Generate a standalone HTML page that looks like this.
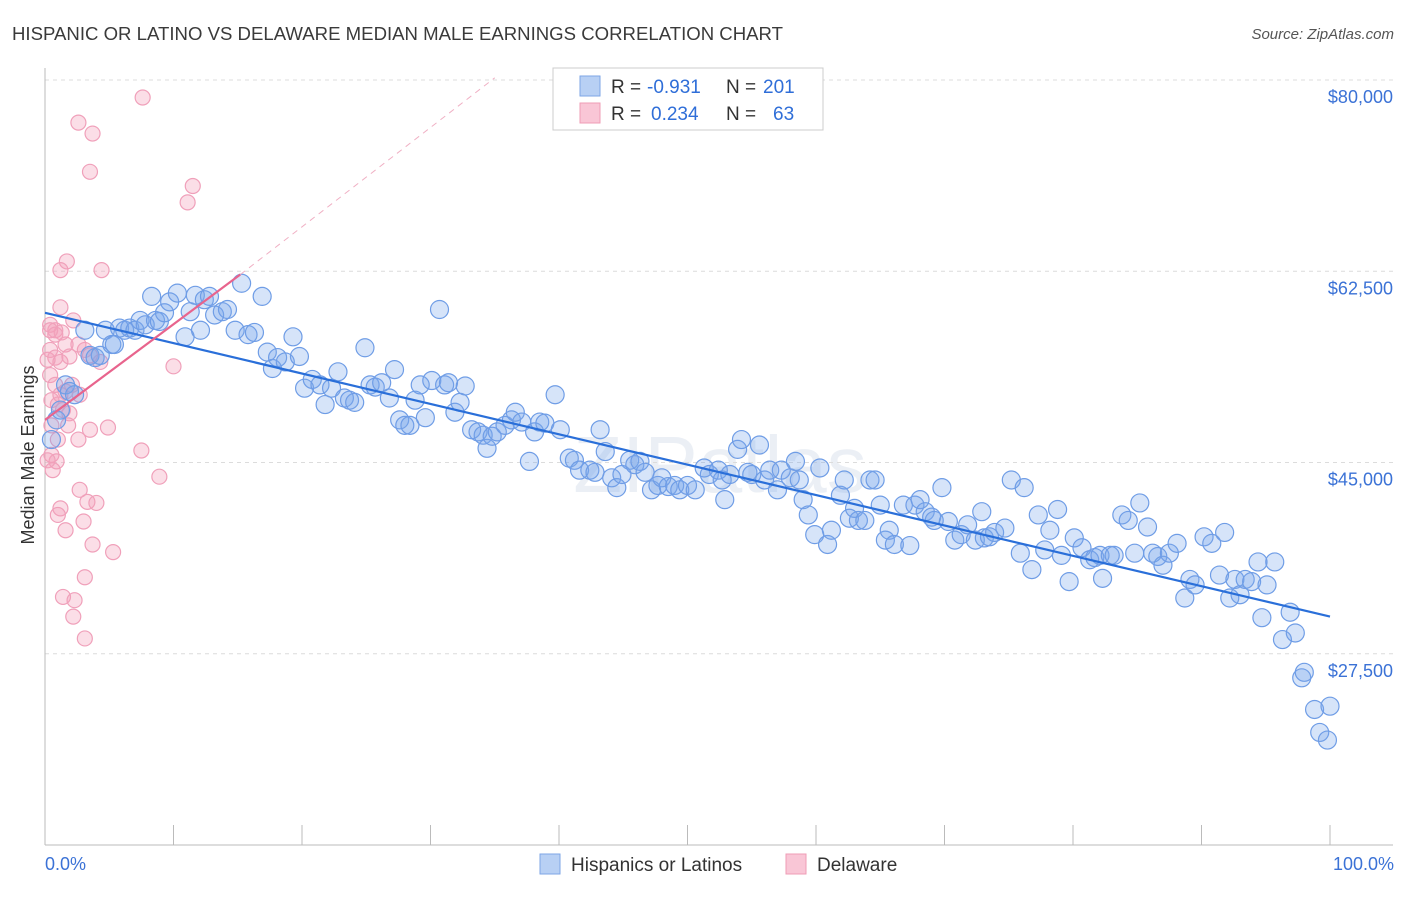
<!DOCTYPE html>
<html><head><meta charset="utf-8">
<style>
body{margin:0;background:#fff;font-family:"Liberation Sans",sans-serif;}
svg text{font-family:"Liberation Sans",sans-serif;}
</style></head>
<body>
<svg id="chart" width="1406" height="892" xmlns="http://www.w3.org/2000/svg">
<text x="12" y="40" font-size="18" fill="#3a3a3a" textLength="771" lengthAdjust="spacingAndGlyphs">HISPANIC OR LATINO VS DELAWARE MEDIAN MALE EARNINGS CORRELATION CHART</text>
<text x="1394" y="39" font-size="15" fill="#555" font-style="italic" text-anchor="end">Source: ZipAtlas.com</text>
<text x="720" y="492" font-size="80" fill="#dfe6ef" text-anchor="middle" font-family="Liberation Serif" opacity="0.6">ZIPatlas</text>
<text transform="translate(34,455) rotate(-90)" font-size="18" fill="#333" text-anchor="middle">Median Male Earnings</text>
<g id="grid"></g><g id="axes"></g><g id="pink"></g><g id="blue"></g><g id="trends"></g>
<g>
<rect x="553" y="68" width="270" height="62" fill="#fff" stroke="#ccc"/>
<rect x="580" y="76" width="20" height="20" fill="#b8d0f4" stroke="#7ea6e6"/>
<rect x="580" y="103" width="20" height="20" fill="#f9c6d6" stroke="#ef9cb6"/>
<text x="611" y="93" font-size="19" fill="#333">R =</text>
<text x="647" y="93" font-size="19" fill="#2f6ed8">-0.931</text>
<text x="726" y="93" font-size="19" fill="#333">N =</text>
<text x="763" y="93" font-size="19" fill="#2f6ed8">201</text>
<text x="611" y="120" font-size="19" fill="#333">R =</text>
<text x="651" y="120" font-size="19" fill="#2f6ed8">0.234</text>
<text x="726" y="120" font-size="19" fill="#333">N =</text>
<text x="773" y="120" font-size="19" fill="#2f6ed8">63</text>
</g>
<g>
<rect x="540" y="854" width="20" height="20" fill="#b8d0f4" stroke="#7ea6e6"/>
<text x="571" y="871" font-size="19" fill="#333">Hispanics or Latinos</text>
<rect x="786" y="854" width="20" height="20" fill="#f9c6d6" stroke="#ef9cb6"/>
<text x="817" y="871" font-size="19" fill="#333">Delaware</text>
</g>
<text x="45" y="870" font-size="18" fill="#3b72d6">0.0%</text>
<text x="1394" y="870" font-size="18" fill="#3b72d6" text-anchor="end">100.0%</text>
</svg>
<script>
const yTicks=[80000,62500,45000,27500];
const yTickLabels=["$80,000","$62,500","$45,000","$27,500"];
const xTicks=[0,10,20,30,40,50,60,70,80,90,100];
const blueX=[0.5,0.9,1.2,1.6,1.9,2.3,3.1,3.5,3.9,4.3,4.7,5.2,5.4,5.8,6.2,6.6,7.0,7.4,7.8,8.3,8.6,8.9,9.3,9.7,10.3,10.9,11.3,11.7,12.1,12.4,12.8,13.2,13.8,14.2,14.8,15.3,15.8,16.3,16.9,17.3,17.7,18.1,18.7,19.3,19.8,20.2,20.8,21.4,21.8,22.3,22.8,23.3,23.7,24.1,24.9,25.3,25.7,26.2,26.8,27.2,27.6,28.0,28.4,28.8,29.2,29.6,30.1,30.7,31.1,31.4,31.9,32.3,32.7,33.2,33.7,34.1,34.4,34.8,35.2,35.8,36.3,36.6,37.1,37.7,38.1,38.5,38.9,39.7,40.1,40.8,41.2,41.6,42.4,42.8,43.2,43.6,44.1,44.5,44.9,45.5,45.9,46.3,46.7,47.2,47.7,48.0,48.5,49.0,49.4,50.0,50.6,51.3,51.7,52.4,52.7,52.9,53.3,53.9,54.2,54.7,55.0,55.6,56.0,56.4,57.0,57.3,58.0,58.4,58.7,59.0,59.4,59.9,60.3,60.9,61.2,61.9,62.2,62.6,63.0,63.3,63.8,64.2,64.6,65.0,65.4,65.7,66.1,66.8,67.3,67.7,68.1,68.5,69.0,69.2,69.8,70.3,70.8,71.3,71.8,72.4,72.9,73.1,73.5,73.9,74.7,75.2,75.9,76.2,76.8,77.3,77.8,78.2,78.8,79.1,79.7,80.1,80.7,81.3,81.7,82.1,82.3,82.9,83.2,83.8,84.3,84.8,85.2,85.8,86.2,86.6,87.0,87.5,88.1,88.7,89.1,89.5,90.2,90.8,91.4,91.8,92.2,92.6,93.0,93.4,93.9,94.4,94.7,95.1,95.7,96.3,96.9,97.3,97.8,98.0,98.8,99.2,99.8,100.0];
const blueY=[47.1,48.9,49.8,52.1,51.5,51.2,57.1,54.8,54.6,54.8,57.1,55.8,55.8,57.3,57.1,57.3,57.1,58.0,57.6,60.2,58.0,57.9,58.7,59.7,60.5,56.5,58.8,60.3,57.1,59.9,60.2,58.5,58.8,59.0,57.1,61.4,56.7,56.9,60.2,55.1,53.6,54.6,54.2,56.5,54.7,51.8,52.6,52.1,50.3,51.8,53.3,50.9,50.7,50.5,55.5,52.1,51.9,52.3,50.9,53.5,48.9,48.4,48.4,50.7,52.1,49.1,52.5,59.0,52.1,52.3,49.6,50.5,52.0,48.0,47.8,47.5,46.3,47.4,47.8,48.4,48.9,49.6,48.7,45.1,47.8,48.7,48.6,51.2,48.0,45.4,45.2,44.3,44.3,44.1,48.0,46.0,43.6,42.7,43.9,45.2,44.8,45.1,44.1,42.5,42.9,43.6,42.8,42.9,42.5,42.9,42.5,44.5,43.9,44.3,43.4,41.6,43.9,46.2,47.1,44.1,43.9,46.6,43.4,44.3,42.5,44.3,43.6,45.1,43.4,41.6,40.2,38.4,44.5,37.5,38.8,42.0,43.4,39.9,40.8,39.7,39.7,43.4,43.4,41.1,37.9,38.8,37.5,41.1,37.4,41.1,41.6,40.5,40.0,39.7,42.7,39.6,37.9,38.4,39.3,37.9,40.5,38.1,38.2,38.6,39.0,43.4,36.7,42.7,35.2,40.2,37.0,38.8,40.7,36.5,34.1,38.1,37.2,36.1,36.3,36.5,34.4,36.5,36.5,40.2,39.7,36.7,41.3,39.1,36.7,36.4,35.6,36.7,37.6,32.6,34.3,33.8,38.2,37.6,34.7,38.6,32.6,34.3,32.9,34.3,34.1,35.9,30.8,33.8,35.9,28.8,31.3,29.4,25.3,25.8,22.4,20.3,19.6,22.7];
const pinkX=[7.6,2.6,3.7,3.5,11.5,11.1,4.4,1.7,1.2,1.2,0.4,0.8,2.2,1.3,0.4,2.6,3.1,0.8,1.2,1.9,4.3,10.0,0.4,0.8,1.6,2.7,1.0,1.4,1.9,0.5,3.5,4.9,1.0,2.6,0.5,0.9,7.5,8.9,0.6,2.7,3.3,4.0,1.2,1.0,3.0,1.6,3.7,5.3,3.1,1.4,2.3,2.2,3.1,0.4,0.2,0.5,0.2,0.8,1.6,3.5,2.1,1.2,1.8];
const pinkY=[78.4,76.1,75.1,71.6,70.3,68.8,62.6,63.4,62.6,59.2,57.6,57.1,58.0,56.9,55.3,55.8,55.3,54.6,54.2,54.7,54.2,53.8,53.0,52.1,51.5,51.2,50.3,49.8,49.5,48.4,48.0,48.2,47.1,47.1,45.7,45.1,46.1,43.7,44.3,42.5,41.4,41.3,40.8,40.2,39.6,38.8,37.5,36.8,34.5,32.7,32.4,30.9,28.9,57.1,54.4,50.7,45.2,56.7,55.8,54.8,52.1,51.2,48.4];
const blueTrendX=[0,100], blueTrendY=[58.7,30.9];
const pinkTrendX=[0,15.2], pinkTrendY=[48.9,62.2];
const pinkDashX=[15.2,35], pinkDashY=[62.2,80.2];

const NS="http://www.w3.org/2000/svg";
const X=p=>45+p*12.85;
const Y=k=>845-(k-10)*765/70;
function mk(tag,parent,attrs){const e=document.createElementNS(NS,tag);for(const a in attrs)e.setAttribute(a,attrs[a]);document.getElementById(parent).appendChild(e);return e;}
yTicks.forEach((v,i)=>{
  const y=Y(v/1000);
  const g=mk('line','grid',{x1:45,x2:1393,y1:y,y2:y,stroke:'#dcdcdc','stroke-dasharray':'4,4'});
  
  
  const t=mk('text','grid',{x:1393,y:y+23,'font-size':18,fill:'#3b72d6','text-anchor':'end'});
  t.textContent=yTickLabels[i];
  
  
});
const ax=mk('line','axes',{x1:45,x2:45,y1:68,y2:845,stroke:'#bbb'});


const bx=mk('line','axes',{x1:45,x2:1393,y1:845,y2:845,stroke:'#bbb'});


xTicks.forEach(p=>{
  const t=mk('line','axes',{x1:X(p),x2:X(p),y1:825,y2:845,stroke:'#bbb'});
  
  
});
pinkX.forEach((p,i)=>{
  const c=mk('circle','pink',{cx:X(p),cy:Y(pinkY[i]),r:7.5,fill:'rgba(244,160,186,0.35)',stroke:'#f0a0ba','stroke-width':1.2});
  
  
});
blueX.forEach((p,i)=>{
  const c=mk('circle','blue',{cx:X(p),cy:Y(blueY[i]),r:9,fill:'rgba(120,165,235,0.3)',stroke:'#6f9de6','stroke-width':1.2});
  
  
});
const bt=mk('line','trends',{x1:X(blueTrendX[0]),y1:Y(blueTrendY[0]),x2:X(blueTrendX[1]),y2:Y(blueTrendY[1]),stroke:'#2a6fd9','stroke-width':2.2});


const pt=mk('line','trends',{x1:X(pinkTrendX[0]),y1:Y(pinkTrendY[0]),x2:X(pinkTrendX[1]),y2:Y(pinkTrendY[1]),stroke:'#e8648d','stroke-width':2.2});


const pd=mk('line','trends',{x1:X(pinkDashX[0]),y1:Y(pinkDashY[0]),x2:X(pinkDashX[1]),y2:Y(pinkDashY[1]),stroke:'#f0b0c4','stroke-width':1,'stroke-dasharray':'6,5'});


</script>
</body></html>
